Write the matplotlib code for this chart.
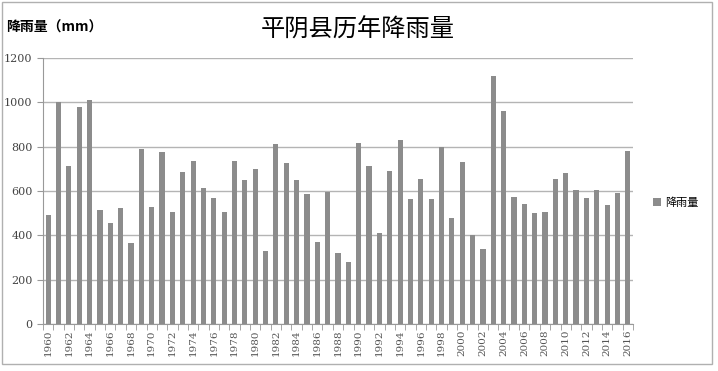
import matplotlib
matplotlib.use("Agg")
import matplotlib.pyplot as plt
from matplotlib.patches import Rectangle
import numpy as np

plt.rcParams['font.family'] = ['Noto Sans CJK SC', 'DejaVu Sans']

years = list(range(1960, 2017))
rainfall = [490, 1000, 715, 980, 1010, 515, 455, 525, 365, 790,
            530, 775, 505, 685, 735, 615, 570, 505, 735, 650,
            700, 330, 810, 725, 650, 585, 370, 595, 320, 280,
            815, 715, 410, 690, 830, 565, 655, 565, 800, 480,
            730, 400, 340, 1120, 960, 575, 540, 500, 505, 655,
            680, 605, 570, 605, 535, 590, 780]
tick_years = years[::2]

fig = plt.figure(figsize=(7.18, 3.71), dpi=100)
ax = fig.add_axes([43 / 718, 1 - 324 / 371, (633 - 43) / 718, (324 - 58) / 371])

x = np.arange(len(years))
ax.bar(x, rainfall, width=0.5, color='#8c8c8c', label='降雨量', zorder=3)

ax.set_xlim(-0.5, len(years) - 0.5)
ax.set_ylim(0, 1200)
ax.set_yticks(range(0, 1201, 200))
ax.yaxis.grid(True, color='#b4b4b4', linewidth=1)
ax.set_axisbelow(True)

ax.set_xticks(x[::2])
ax.set_xticklabels([str(y) for y in tick_years], rotation=90,
                   family='DejaVu Serif', fontsize=7.5, color='#555555')
ax.set_xticks(np.arange(-0.5, len(years)), minor=True)
ax.tick_params(axis='x', which='major', length=0, pad=4)
ax.tick_params(axis='x', which='minor', length=4, color='#999999')
ax.tick_params(axis='y', length=4, color='#999999', labelsize=8, labelcolor='#444444')
for lab in ax.get_yticklabels():
    lab.set_family('DejaVu Serif')

for s in ['top', 'right']:
    ax.spines[s].set_visible(False)
ax.spines['left'].set_color('#999999')
ax.spines['bottom'].set_color('#999999')

fig.text(358 / 718, 1 - 30 / 371, '平阴县历年降雨量', ha='center', va='center', fontsize=17.5)
fig.text(6 / 718, 1 - 28 / 371, '降雨量（mm）', ha='left', va='center',
         fontsize=10, fontweight='bold')

ax.legend(loc='center left', bbox_to_anchor=(643 / 718, 1 - 203 / 371),
          bbox_transform=fig.transFigure, frameon=False, fontsize=8,
          handlelength=0.7, handleheight=0.7, handletextpad=0.4)

fig.patches.append(Rectangle((2 / 718, 1 - 364 / 371), 710 / 718, 362 / 371,
                             transform=fig.transFigure, fill=False,
                             edgecolor='#b0b0b0', linewidth=1))

fig.savefig('out.png', dpi=100)
